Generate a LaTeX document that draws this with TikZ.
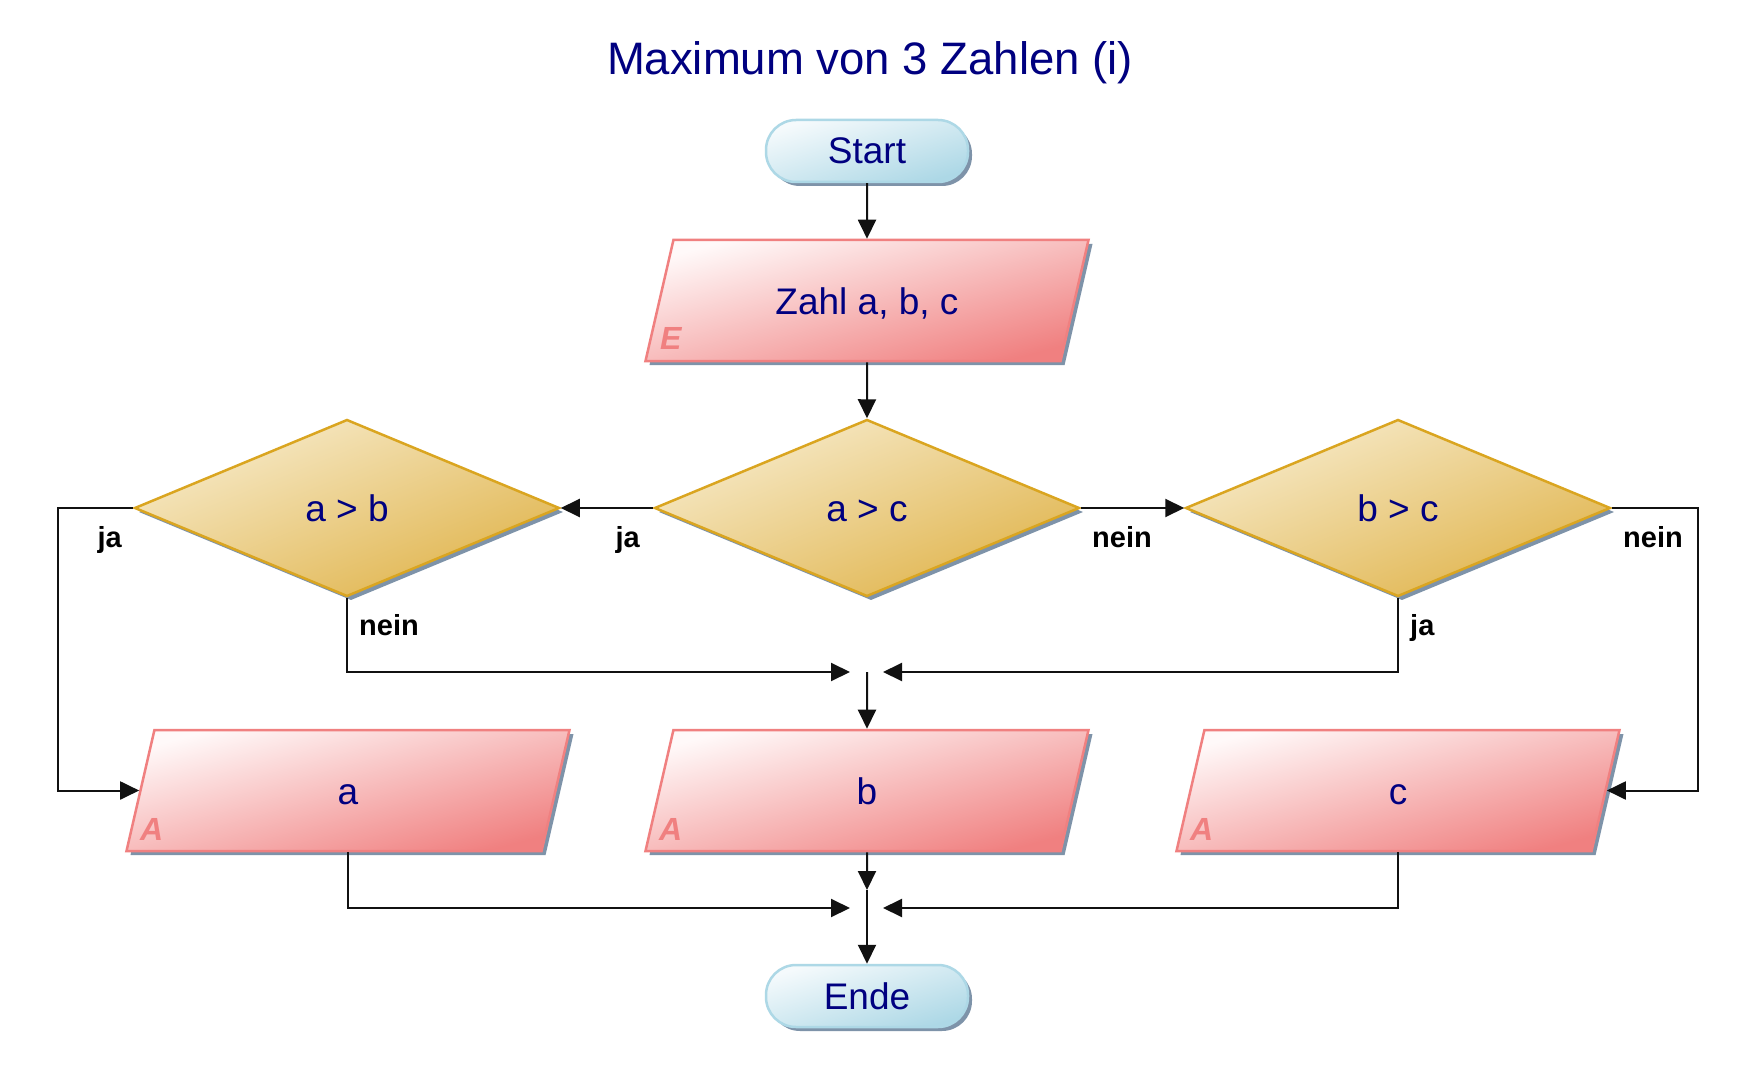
\documentclass[tikz,border=0pt]{standalone}
\usepackage{fontspec}
\setmainfont{Liberation Sans}
\usepackage{tikz}
\usetikzlibrary{shapes.geometric,shadows,arrows.meta}

\definecolor{titelblau}{HTML}{000080}
\definecolor{lachs}{HTML}{F08080}
\definecolor{lachshell}{HTML}{FFF9F9}
\definecolor{goldrand}{HTML}{DAA520}
\definecolor{goldhell}{HTML}{F7EBCB}
\definecolor{golddunkel}{HTML}{E0B44C}
\definecolor{hellblau}{HTML}{ADD8E6}
\definecolor{eisblau}{HTML}{F5FAFC}
\definecolor{schatten}{HTML}{7E93A9}
\definecolor{strichfarbe}{HTML}{111111}

\tikzset{
	verbinder/.style={draw=strichfarbe, line width=2pt},
	pfeil/.style={verbinder, -{Triangle[length=19pt,width=18pt]}},
	schattig/.style={drop shadow={shadow xshift=4pt, shadow yshift=-4pt, fill=schatten, opacity=1}},
	terminal/.style={rectangle, rounded corners=30pt, minimum width=202pt, minimum height=62pt,
		draw=hellblau, line width=2.5pt, top color=eisblau, bottom color=hellblau, shading angle=17,
		schattig, text=titelblau, text height=30pt, text depth=4pt, font=\fontsize{37}{44}\selectfont},
	raute/.style={diamond, minimum width=425pt, minimum height=177pt, inner sep=0pt,
		draw=goldrand, line width=2.5pt, top color=goldhell, bottom color=golddunkel, shading angle=22,
		schattig, text=titelblau, text height=31pt, text depth=4pt, font=\fontsize{37}{44}\selectfont},
	eaus/.style={trapezium, trapezium left angle=77, trapezium right angle=103, trapezium stretches body,
		minimum width=443pt, inner xsep=0pt, inner ysep=42.5pt, text height=32pt, text depth=4pt,
		draw=lachs, line width=2.5pt, top color=lachshell, bottom color=lachs, shading angle=15,
		schattig, text=titelblau, font=\fontsize{37}{44}\selectfont},
	kennung/.style={anchor=base west, inner sep=0pt, text=lachs, font=\bfseries\itshape\fontsize{32}{36}\selectfont},
	marke/.style={inner sep=0pt, font=\bfseries\fontsize{29}{34}\selectfont},
	titel/.style={anchor=base, inner sep=0pt, text=titelblau, font=\fontsize{45.5}{52}\selectfont}
}

\begin{document}
\begin{tikzpicture}[x=1pt, y=-1pt]
		%%%%% START %%%%%
		
		\fill[white] (0, 0) rectangle (1757, 1086);
		\useasboundingbox (0, 0) rectangle (1757, 1086);
		
		\node[titel] (titel) at (870, 75) {Maximum von 3 Zahlen (i)};
		
		\node[terminal] (start) at (867, 151) {Start};
		\node[eaus] (zahl) at (867, 300.5) {Zahl a, b, c};
		\node[kennung] at ([xshift=16pt, yshift=13pt]zahl.bottom left corner) {E};
		
		\node[raute] (ab) at (347, 508) {a > b};
		\node[raute] (ac) at (867, 508) {a > c};
		\node[raute] (bc) at (1398, 508) {b > c};
		
		\coordinate (knickl) at (58, 508);
		\coordinate (knickr) at (1698, 508);
		\coordinate (mitte1) at (867, 672);
		
		\node[eaus] (ausa) at (348, 790.5) {a};
		\node[eaus] (ausb) at (867, 790.5) {b};
		\node[eaus] (ausc) at (1398, 790.5) {c};
		\node[kennung] at ([xshift=15pt, yshift=12pt]ausa.bottom left corner) {A};
		\node[kennung] at ([xshift=15pt, yshift=12pt]ausb.bottom left corner) {A};
		\node[kennung] at ([xshift=15pt, yshift=12pt]ausc.bottom left corner) {A};
		
		\coordinate (spitze2) at (867, 890);
		\coordinate (mitte2) at (867, 908);
		\node[terminal] (ende) at (867, 996) {Ende};
		
		\draw[pfeil] (start) -- (zahl.north);
		\draw[pfeil] (zahl.south) -- (ac.north);
		\draw[pfeil] (ac.west) -- (ab.east);
		\draw[pfeil] (ac.east) -- (bc.west);
		\draw[pfeil] (ab.west) -- (knickl) |- (ausa.west);
		\draw[pfeil] (bc.east) -- (knickr) |- (ausc.east);
		
		\draw[pfeil, shorten >=17pt] (ab.south) |- (mitte1);
		\draw[pfeil, shorten >=16pt] (bc.south) |- (mitte1);
		\draw[pfeil] (mitte1) -- (ausb.north);
		
		\draw[pfeil, shorten >=17pt] (ausa.south) |- (mitte2);
		\draw[pfeil, shorten >=16pt] (ausc.south) |- (mitte2);
		\draw[pfeil] (ausb.south) -- (spitze2);
		\draw[pfeil] (spitze2) -- (ende.north);
		
		\node[marke, anchor=base east] at (122, 547) {ja};
		\node[marke, anchor=base east] at (640, 547) {ja};
		\node[marke, anchor=base west] at (1092, 547) {nein};
		\node[marke, anchor=base east] at (1683, 547) {nein};
		\node[marke, anchor=base west] at (359, 635) {nein};
		\node[marke, anchor=base west] at (1410, 635) {ja};
		
		%%%%% END %%%%%
\end{tikzpicture}
\end{document}
